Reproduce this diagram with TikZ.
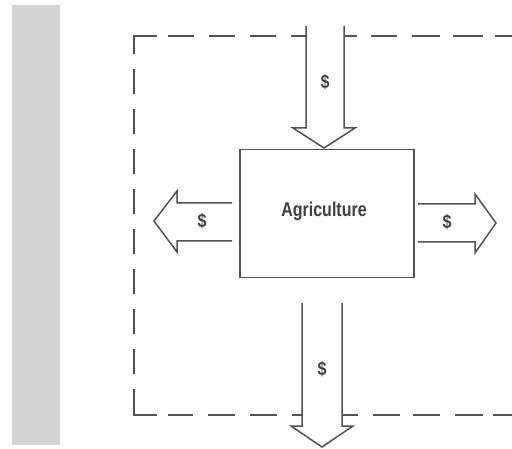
\documentclass[tikz,border=0pt]{standalone}
\usepackage{fontspec}
\setmainfont{Liberation Sans}
\begin{document}
\begin{tikzpicture}[x=1pt,y=-1pt,
  ink/.style={draw=black!68,line width=1.5pt},
  dashline/.style={ink,line cap=butt},
  flow/.style={ink,line join=miter,fill=white},
  lbl/.style={text=black!75,font=\fontsize{20}{20}\selectfont\bfseries,inner sep=0pt},
  dollar/.style={lbl,font=\fontsize{19}{19}\selectfont\bfseries}]
\useasboundingbox (0,0) rectangle (512,449);
\fill[white] (0,0) rectangle (512,449);
% grey strip at left
\fill[black!17] (12,5) rectangle (60,445);
% dashed frame: corners
\draw[dashline] (134,54) -- (134,36) -- (157,36);
\draw[dashline] (134,392) -- (134,415) -- (157,415);
% left edge dashes
\draw[dashline,dash pattern=on 25pt off 15pt,dash phase=25pt] (134,54) -- (134,392);
% top edge dashes
\foreach \a/\b in {168/194,209/235,250/276,291/306,344/357,371/397,412/440,453/483,495/512}
  \draw[dashline] (\a,36) -- (\b,36);
% bottom edge dashes
\foreach \a/\b in {168/193,208/235,250/277,292/302,342/358,373/400,413/440,455/483,493/512}
  \draw[dashline] (\a,415) -- (\b,415);
% the sector box
\node[ink,minimum width=174pt,minimum height=128pt,inner sep=0pt,anchor=north west] (agri) at (239,149) {};
\node[lbl] (agrilbl) at (324,211) {\scalebox{0.8}[1]{Agriculture}};
% inflow from above
\coordinate (intip) at (324,148);
\draw[flow] (306,26) -- (306,128) -- (293,128) -- (intip) -- (355,128) -- (344,128) -- (344,26);
\node[dollar] (din) at (325,82) {\scalebox{0.85}[1]{\$}};
% outflow to the left
\coordinate (lefttip) at (154,221);
\draw[flow] (232,203) -- (177,203) -- (177,191) -- (lefttip) -- (177,252) -- (177,241) -- (232,241);
\node[dollar] (dleft) at (202,221) {\scalebox{0.85}[1]{\$}};
% outflow to the right
\coordinate (righttip) at (496,223);
\draw[flow] (418,204) -- (475,204) -- (475,194) -- (righttip) -- (475,253) -- (475,242) -- (418,242);
\node[dollar] (dright) at (447,222) {\scalebox{0.85}[1]{\$}};
% outflow downward
\coordinate (downtip) at (322,447);
\draw[flow] (302,303) -- (302,426) -- (291,426) -- (downtip) -- (353,426) -- (342,426) -- (342,303);
\node[dollar] (ddown) at (322,369) {\scalebox{0.85}[1]{\$}};
\end{tikzpicture}
\end{document}
